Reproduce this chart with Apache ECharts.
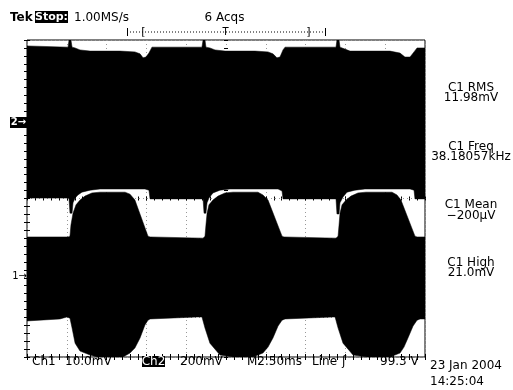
<!DOCTYPE html>
<html><head><meta charset="utf-8">
<script src="https://cdn.jsdelivr.net/npm/echarts/dist/echarts.min.js"></script>
<style>html,body{margin:0;padding:0;background:#fff}#c{width:513px;height:390px}</style>
</head><body><div id="c"></div>
<script>
// Time axis in ms (M2.50ms/div, 10 div), vertical in divisions (8 div)
var timeDivs = 10, msPerDiv = 2.5, vDivs = 8;

// Upper edge of the Ch2 (upper) trace envelope [ms, div]
var topEdge = [[0,7.85],[2.58,7.82],[2.64,8],[2.76,8],[2.83,7.82],[3.02,7.80],[3.33,7.75],[3.96,7.72],[5.84,7.72],[6.78,7.70],[7.10,7.65],[7.29,7.55],[7.47,7.57],[7.66,7.67],[7.85,7.82],
  [10.99,7.82],[11.06,8],[11.18,8],[11.24,7.82],[11.49,7.80],[11.81,7.75],[12.44,7.72],[14.32,7.72],[15.14,7.70],[15.45,7.65],[15.70,7.55],[15.89,7.57],[16.08,7.75],[16.21,7.82],
  [19.41,7.82],[19.47,8],[19.60,8],[19.66,7.82],[19.97,7.77],[20.29,7.72],[22.80,7.72],[23.43,7.67],[23.74,7.57],[24.06,7.57],[24.31,7.70],[24.50,7.80],[25,7.80]];
// Lower edge of the upper envelope
var upperBandBottom = [[0,4.01],[2.58,4.01],[2.64,3.99],[2.70,3.63],[2.83,3.63],[2.89,3.89],[3.02,4.01],[3.20,4.09],[3.45,4.16],[3.96,4.21],[4.59,4.24],[7.41,4.24],[7.66,4.21],[7.73,3.99],
  [11.06,3.99],[11.12,3.63],[11.24,3.63],[11.31,3.89],[11.43,4.01],[11.68,4.14],[12.12,4.21],[12.75,4.24],[15.77,4.24],[16.02,4.19],[16.08,3.99],
  [19.41,3.99],[19.47,3.61],[19.60,3.61],[19.66,3.89],[19.85,4.04],[20.10,4.16],[20.60,4.21],[21.23,4.24],[24.06,4.24],[24.31,4.21],[24.37,3.99],[25,3.99]];
// Upper edge of the lower envelope (Ch1 bursts)
var lowerBandTop = [[0,3.03],[2.58,3.03],[2.70,3.05],[2.76,3.33],[2.89,3.63],[3.08,3.84],[3.33,3.96],[3.64,4.06],[4.08,4.14],[4.59,4.16],[6.16,4.16],[6.47,4.11],[6.78,3.96],[7.60,3.05],[7.73,3.03],
  [11.06,3.00],[11.18,3.05],[11.24,3.33],[11.31,3.63],[11.43,3.84],[11.68,3.96],[12.00,4.06],[12.44,4.14],[12.94,4.16],[14.51,4.16],[14.82,4.09],[15.14,3.96],[16.02,3.05],[16.14,3.03],
  [19.41,3.00],[19.54,3.05],[19.60,3.33],[19.66,3.63],[19.79,3.84],[20.04,3.96],[20.35,4.06],[20.79,4.14],[21.29,4.16],[22.93,4.16],[23.24,4.09],[23.49,3.96],[24.37,3.05],[24.50,3.03],[25,3.03]];
// Lower edge of the lower envelope
var lowerBandBottom = [[0,0.91],[2.07,0.96],[2.51,1.01],[2.70,0.98],[2.83,0.73],[3.02,0.35],[3.33,0.15],[3.96,0.05],[4.40,0],[6.03,0],[6.47,0.10],[6.78,0.23],[7.10,0.48],[7.41,0.81],[7.60,0.93],[7.73,0.96],
  [10.68,1.01],[10.99,1.01],[11.18,0.73],[11.49,0.35],[12.12,0.05],[12.94,0],[14.20,0],[14.82,0.10],[15.14,0.25],[15.45,0.48],[15.77,0.78],[16.02,0.93],[16.21,0.96],
  [19.22,1.01],[19.35,1.01],[19.54,0.73],[19.85,0.35],[20.48,0.05],[21.36,0],[22.80,0],[23.43,0.10],[23.68,0.25],[23.93,0.48],[24.25,0.78],[24.50,0.93],[24.69,0.96],[25,0.96]];

var measLabels = ['C1 RMS','C1 Freq','C1 Mean','C1 High'];
var measValues = ['11.98mV','38.18057kHz','\u2212200\u00B5V','21.0mV'];

var FONT = '12px "DejaVu Sans"';
var chart = echarts.init(document.getElementById('c'), null, {renderer:'canvas'});

function band(upper, lower){
  return {type:'custom', coordinateSystem:'cartesian2d', xAxisIndex:0, yAxisIndex:0, clip:true, silent:true, z:5,
    data:[[0,0]],
    renderItem:function(params, api){
      var pts = upper.map(function(p){return api.coord(p);})
        .concat(lower.slice().reverse().map(function(p){return api.coord(p);}));
      return {type:'polygon', shape:{points:pts}, style:{fill:'#000', stroke:'#000', lineWidth:0.5}};
    }};
}
function xa(pos, opt){
  var a = {type:'value', min:0, max:timeDivs*msPerDiv, interval:msPerDiv, position:pos,
    axisLine:{show:false}, axisLabel:{show:false}, splitLine:{show:false},
    axisTick:{show:true, inside:true, length:3, lineStyle:{color:'#000', width:1}},
    minorTick:{show:true, splitNumber:5, length:3, lineStyle:{color:'#000', width:1}}};
  return Object.assign(a, opt||{});
}
function ya(pos, opt){
  var a = {type:'value', min:0, max:vDivs, interval:1, position:pos,
    axisLine:{show:false}, axisLabel:{show:false}, splitLine:{show:false},
    axisTick:{show:true, inside:true, length:3, lineStyle:{color:'#000', width:1}},
    minorTick:{show:true, splitNumber:5, length:3, lineStyle:{color:'#000', width:1}}};
  return Object.assign(a, opt||{});
}
function txt(x, y, s, opt){
  opt = opt||{};
  var al = opt.align||'left';
  return {type:'text', x:x, y:y, z:100, silent:true, style:{text:s, font:opt.font||FONT, fill:opt.fill||'#000',
    align:al, textAlign:al, verticalAlign:'middle', textVerticalAlign:'middle'}};
}
function box(x, y, w, h){
  return {type:'rect', z:99, silent:true, shape:{x:x, y:y, width:w, height:h}, style:{fill:'#000'}};
}

var graphics = [
  txt(10, 17.5, 'Tek', {font:'bold 12px "DejaVu Sans"'}),
  box(35, 11, 33, 12), txt(51.5, 17.5, 'Stop:', {font:'bold 11px "DejaVu Sans"', fill:'#fff', align:'center'}),
  txt(74, 17.5, '1.00MS/s'),
  txt(224.5, 17.5, '6 Acqs', {align:'center'}),
  {type:'line', z:99, silent:true, shape:{x1:127, y1:32, x2:325, y2:32}, style:{stroke:'#000', lineWidth:1, lineDash:[1,2]}},
  {type:'line', z:99, silent:true, shape:{x1:127.5, y1:28, x2:127.5, y2:36}, style:{stroke:'#000', lineWidth:1}},
  {type:'line', z:99, silent:true, shape:{x1:325.5, y1:28, x2:325.5, y2:36}, style:{stroke:'#000', lineWidth:1}},
  txt(143.5, 32, '[', {align:'center', font:'11px "DejaVu Sans"'}),
  txt(225.5, 32, 'T', {align:'center', font:'10px "DejaVu Sans"'}),
  txt(308.5, 32, ']', {align:'center', font:'11px "DejaVu Sans"'}),
  box(10, 117, 17, 11), txt(18.5, 122.5, '2\u2192', {font:'bold 10px "DejaVu Sans"', fill:'#fff', align:'center'}),
  txt(19.5, 276, '1\u2192', {font:'10px "DejaVu Sans"', align:'center'}),
  txt(32, 362, 'Ch1'), txt(65, 362, '10.0mV'),
  box(142, 356, 23, 11), txt(153.5, 362, 'Ch2', {fill:'#fff', align:'center'}),
  txt(180, 362, '200mV'), txt(247, 362, 'M2.50ms'), txt(312, 362, 'Line'),
  txt(342, 362, '\u0283'), txt(380, 362, '99.3 V'),
  txt(430, 366, '23 Jan 2004'), txt(430, 382, '14:25:04')
];
var measY = [87.5, 146.5, 205, 262.5];
for (var i = 0; i < measLabels.length; i++){
  graphics.push(txt(471, measY[i], measLabels[i], {align:'center'}));
  graphics.push(txt(471, measY[i] + 10.5, measValues[i], {align:'center'}));
}

chart.setOption({
  animation:false,
  backgroundColor:'#fff',
  grid:{left:27, top:40, width:398, height:317, show:true, backgroundColor:'#fff', borderColor:'#000', borderWidth:1, containLabel:false},
  xAxis:[
    xa('bottom', {splitLine:{show:true, lineStyle:{color:'#999', width:1, type:[1,3]}}}),
    xa('top'),
    xa('bottom', {offset:-158.5, minorTick:{show:true, splitNumber:5, length:2, lineStyle:{color:'#000'}}, axisTick:{show:true, inside:true, length:2, lineStyle:{color:'#000'}}}),
    xa('bottom', {offset:-158.5, minorTick:{show:true, splitNumber:5, length:2, lineStyle:{color:'#000'}}, axisTick:{show:true, inside:false, length:2, lineStyle:{color:'#000'}}})
  ],
  yAxis:[
    ya('left', {splitLine:{show:true, lineStyle:{color:'#999', width:1, type:[1,3]}}}),
    ya('right'),
    ya('left', {offset:-199, minorTick:{show:true, splitNumber:5, length:2, lineStyle:{color:'#000'}}, axisTick:{show:true, inside:true, length:2, lineStyle:{color:'#000'}}}),
    ya('left', {offset:-199, minorTick:{show:true, splitNumber:5, length:2, lineStyle:{color:'#000'}}, axisTick:{show:true, inside:false, length:2, lineStyle:{color:'#000'}}})
  ],
  series:[ band(topEdge, upperBandBottom), band(lowerBandTop, lowerBandBottom) ],
  graphic:{elements:graphics}
});
</script></body></html>
